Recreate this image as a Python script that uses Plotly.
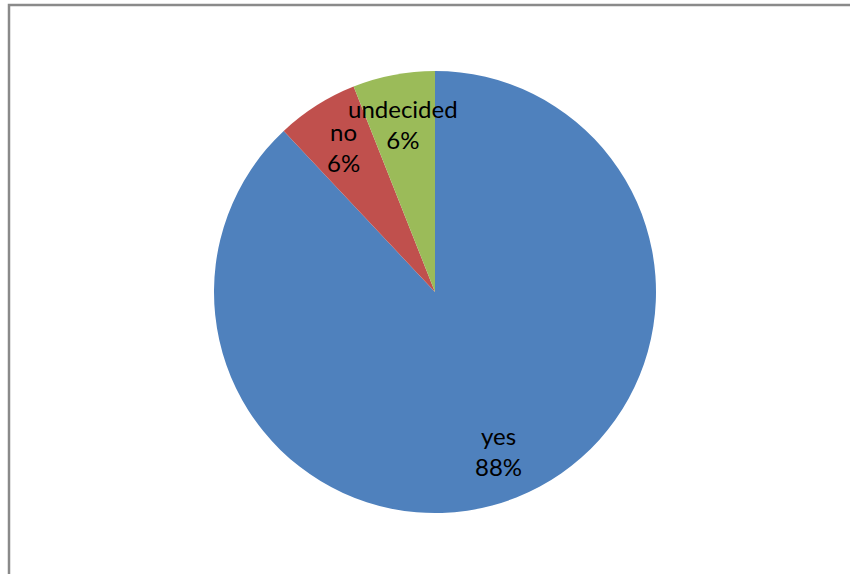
import math
import plotly.graph_objects as go

labels = ["yes", "no", "undecided"]
values = [88, 6, 6]
colors = ["#4F81BD", "#C0504D", "#9BBB59"]

W, H = 850, 574
cx, cy, R = 435, 292, 221  # pixel centre/radius of the pie (layout)

dom_x = [(cx - R) / W, (cx + R) / W]
dom_y = [(H - cy - R) / H, (H - cy + R) / H]

fig = go.Figure(go.Pie(
    labels=labels,
    values=values,
    marker=dict(colors=colors, line=dict(width=0)),
    sort=False,
    direction="clockwise",
    rotation=0,
    textinfo="none",
    hoverinfo="label+percent",
    domain=dict(x=dom_x, y=dom_y),
    showlegend=False,
))

# data labels placed at each slice's mid-angle
total = sum(values)
annotations = []
cum = 0
for lab, v in zip(labels, values):
    mid = (cum + v / 2) / total * 2 * math.pi
    cum += v
    r = 0.775 * R
    px = cx + r * math.sin(mid)
    py = cy - r * math.cos(mid)
    pct = round(v / total * 100)
    annotations.append(dict(
        x=px / W, y=(H - py) / H, xref="paper", yref="paper",
        text=f"{lab}<br>{pct}%", showarrow=False,
        font=dict(family="Lato, Carlito, sans-serif", size=24, color="#000000"),
        xanchor="center", yanchor="middle", align="center",
    ))

fig.update_layout(
    width=W, height=H,
    margin=dict(l=0, r=0, t=0, b=0),
    paper_bgcolor="white", plot_bgcolor="white",
    annotations=annotations,
    shapes=[dict(
        type="rect", xref="paper", yref="paper",
        x0=9 / W, x1=1.05, y0=-0.05, y1=1 - 5 / H,
        line=dict(color="#8a8a8a", width=2.5),
        fillcolor="rgba(0,0,0,0)",
    )],
)

fig.write_html(
    "out.html",
    config={"displayModeBar": False},
    post_script="document.body.style.margin='0';document.body.style.padding='0';",
)
